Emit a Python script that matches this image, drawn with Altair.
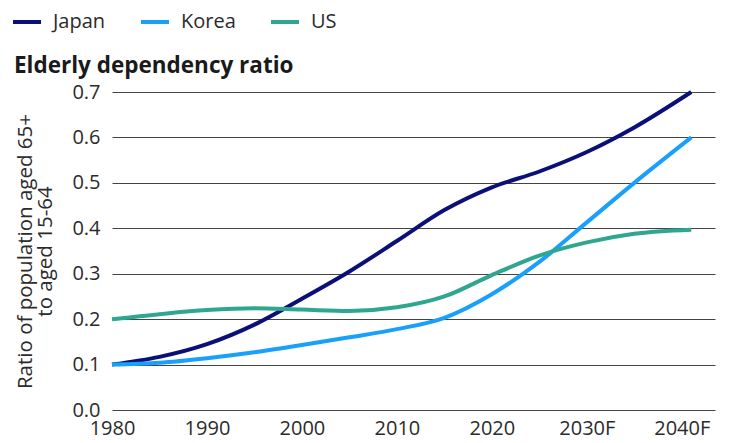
import altair as alt
import pandas as pd

years = [1980, 1985, 1990, 1995, 2000, 2005, 2010, 2015, 2020, 2025, 2030, 2035, 2041]
japan = [0.100, 0.117, 0.145, 0.188, 0.245, 0.305, 0.372, 0.440, 0.490, 0.525, 0.568, 0.622, 0.700]
korea = [0.100, 0.104, 0.114, 0.127, 0.143, 0.160, 0.178, 0.203, 0.255, 0.326, 0.413, 0.500, 0.600]
us = [0.200, 0.211, 0.220, 0.224, 0.221, 0.218, 0.226, 0.250, 0.297, 0.340, 0.369, 0.388, 0.397]

countries = ["Japan", "Korea", "US"]
colors = ["#0b1078", "#18a0fb", "#2fa690"]
x_ticks = [1980, 1990, 2000, 2010, 2020, 2030, 2040]
y_ticks = [0.0, 0.1, 0.2, 0.3, 0.4, 0.5, 0.6, 0.7]

rows = []
for name, vals in zip(countries, [japan, korea, us]):
    for yr, v in zip(years, vals):
        rows.append({"year": yr, "value": v, "country": name})
df = pd.DataFrame(rows)

FONT = "Open Sans"
TXT = "#2b2b2b"

chart = alt.Chart(df).mark_line(strokeWidth=4, interpolate="monotone").encode(
    x=alt.X("year:Q",
            scale=alt.Scale(domain=[1980, 2043.5], nice=False, zero=False),
            axis=alt.Axis(values=x_ticks, title=None, grid=False, domain=False, ticks=False,
                          labelExpr="datum.value >= 2030 ? datum.value + 'F' : '' + datum.value",
                          labelFontSize=20, labelFont=FONT, labelColor=TXT, labelPadding=8,
                          labelFlush=False, labelOverlap=False)),
    y=alt.Y("value:Q",
            scale=alt.Scale(domain=[0, 0.7], nice=False),
            axis=alt.Axis(values=y_ticks, format=".1f", domain=False, ticks=False,
                          title=["Ratio of population aged 65+", "to aged 15-64"],
                          titleFont=FONT, titleFontSize=20.5, titleFontWeight="normal",
                          titleColor=TXT, titlePadding=16, titleLineHeight=20,
                          labelFontSize=20, labelFont=FONT, labelColor=TXT, labelPadding=12,
                          grid=True, gridColor="#444444", gridWidth=1)),
    color=alt.Color("country:N",
                    scale=alt.Scale(domain=countries, range=colors),
                    legend=alt.Legend(orient="none", legendX=-101, legendY=-86,
                                      direction="horizontal", title=None,
                                      symbolType="stroke", symbolSize=784, symbolStrokeWidth=4,
                                      labelFont=FONT, labelFontSize=20, labelColor=TXT,
                                      labelOffset=10, columnPadding=27,
                                      labelExpr="datum.label == 'Korea' ? 'Korea        ' : datum.label")),
).properties(
    width=603,
    height=318,
    title=alt.TitleParams("Elderly dependency ratio", anchor="start", frame="group",
                          dx=-98, dy=85, offset=14, font=FONT, fontSize=22.5, fontWeight="bold",
                          color="#1a1a1a"),
    autosize=alt.AutoSizeParams(type="none"),
    padding={"left": 104, "top": 84, "right": 6, "bottom": 36},
).configure_view(stroke=None)

chart.save("out.html", embed_options={"renderer": "svg", "actions": False})
